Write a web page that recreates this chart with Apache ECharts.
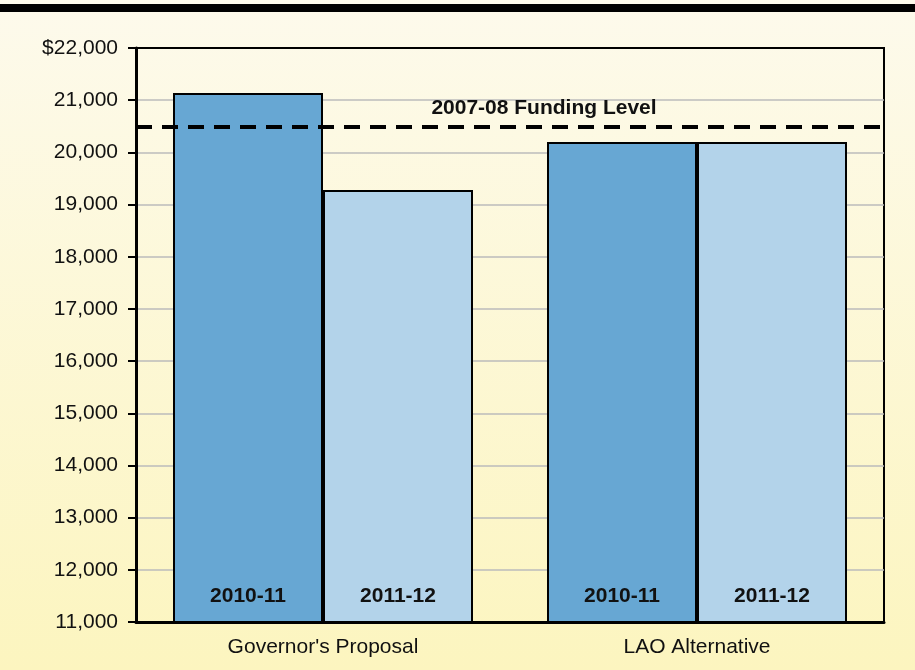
<!DOCTYPE html>
<html>
<head>
<meta charset="utf-8">
<script src="https://cdn.jsdelivr.net/npm/echarts@6/dist/echarts.min.js"></script>
<style>
  html, body { margin: 0; padding: 0; }
  #chart { width: 915px; height: 670px; }
</style>
</head>
<body>
<div id="chart"></div>
<script>
// 数据
var categories = ["Governor's Proposal", 'LAO Alternative'];
var years = ['2010-11', '2011-12'];
var values2010 = [21140, 20200];
var values2011 = [19280, 20200];
var fundingLevel = 20500;
var fundingLabel = '2007-08 Funding Level';

var font = '"Liberation Sans", Arial, Helvetica, sans-serif';

var myChart = echarts.init(document.getElementById('chart'));

function barSeries(name, data, color, withLine) {
    var s = {
        name: name,
        type: 'bar',
        data: data,
        barWidth: 150,
        barGap: '0%',
        itemStyle: {
            color: color,
            borderColor: '#000',
            borderWidth: 2
        },
        label: {
            show: true,
            position: 'insideBottom',
            distance: 16,
            formatter: name,
            color: '#111',
            fontFamily: font,
            fontWeight: 'bold',
            fontSize: 21
        }
    };
    if (withLine) {
        // 2007-08 资金水平虚线
        s.markLine = {
            silent: true,
            symbol: 'none',
            lineStyle: { color: '#000', type: [16, 10], width: 4 },
            label: {
                show: true,
                position: 'insideMiddleTop',
                distance: 8,
                padding: [0, 0, 0, 68],
                formatter: fundingLabel,
                color: '#111',
                fontFamily: font,
                fontWeight: 'bold',
                fontSize: 21
            },
            data: [{ yAxis: fundingLevel }]
        };
    }
    return s;
}

var option = {
    backgroundColor: new echarts.graphic.LinearGradient(0, 0, 0, 1, [
        { offset: 0, color: '#fdfaec' },
        { offset: 1, color: '#fcf5bf' }
    ]),
    animation: false,
    graphic: [{
        type: 'rect',
        left: 0,
        top: 4,
        shape: { width: 915, height: 8 },
        style: { fill: '#000' }
    }],
    grid: {
        left: 136,
        right: 31,
        top: 48,
        bottom: 48,
        show: true,
        backgroundColor: 'transparent',
        borderColor: '#000',
        borderWidth: 2
    },
    xAxis: {
        type: 'category',
        data: categories,
        axisTick: { show: false },
        axisLine: { lineStyle: { color: '#000', width: 3 } },
        axisLabel: {
            color: '#111',
            fontFamily: font,
            fontSize: 21,
            margin: 15
        }
    },
    yAxis: {
        type: 'value',
        min: 11000,
        max: 22000,
        interval: 1000,
        axisLine: { show: true, lineStyle: { color: '#000', width: 3 } },
        axisTick: { show: true, length: 8, lineStyle: { color: '#000', width: 2 } },
        splitLine: {
            showMaxLine: false,
            lineStyle: { color: '#bbb', width: 1.5 }
        },
        axisLabel: {
            color: '#111',
            fontFamily: font,
            fontSize: 21,
            margin: 18,
            formatter: function (v) {
                var s = v.toLocaleString('en-US');
                return v === 22000 ? '$' + s : s;
            }
        }
    },
    series: [
        barSeries(years[0], values2010, '#67a7d3', true),
        barSeries(years[1], values2011, '#b3d3ea', false)
    ]
};

myChart.setOption(option);
window.addEventListener('resize', function () {
    myChart.resize();
});
</script>
</body>
</html>
